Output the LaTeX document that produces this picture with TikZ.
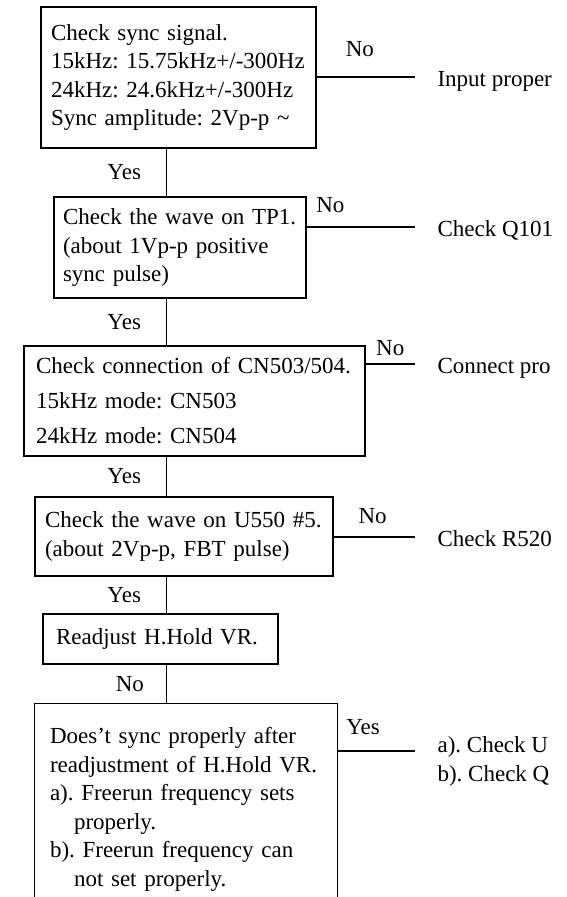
\documentclass[tikz,border=0pt]{standalone}
\usepackage{fontspec}
\setmainfont{Liberation Serif}
\usetikzlibrary{arrows,positioning,calc}
\frenchspacing

\begin{document}
\begin{tikzpicture}[x=1pt,y=-1pt,line width=1.1pt,
                    every node/.style={font=\fontsize{23}{28.5}\selectfont}]
  \tikzstyle{check}=[draw,align=left,inner ysep=0pt]
  \tikzstyle{result}=[anchor=base west,inner sep=0pt]
  \tikzstyle{yes}=[left=25pt,inner sep=0pt]
  \tikzstyle{no}=[anchor=south,inner sep=0pt]

  \useasboundingbox (0,0) rectangle (566,897);

  % the checks, top to bottom
  \node[check,text width=255pt,inner xsep=10pt,minimum height=141pt] (b1) at (178.5,77.5)
    {Check sync signal.\\15kHz: 15.75kHz+/-300Hz\\24kHz: 24.6kHz+/-300Hz\\Sync amplitude: 2Vp-p \textasciitilde};
  \node[check,text width=234pt,inner xsep=9pt,minimum height=101pt] (b2) at (180,247.5)
    {Check~the~wave~on~TP1.\\(about 1Vp-p positive\\sync pulse)};
  \node[check,text width=317pt,inner xsep=12pt,minimum height=110pt,
        font=\fontsize{23}{35}\selectfont] (b3) at (194.5,401)
    {Check connection of CN503/504.\\15kHz mode: CN503\\24kHz mode: CN504};
  \node[check,text width=278pt,inner xsep=10pt,minimum height=79pt] (b4) at (184,536.5)
    {Check the wave on U550 \#5.\\(about 2Vp-p, FBT pulse)};
  \node[check,text width=209pt,inner xsep=13pt,minimum height=50pt] (b5) at (160.5,639)
    {Readjust H.Hold VR.};
  % last check runs off the page at the bottom
  \node[check,draw=none,text width=272pt,inner xsep=15pt,minimum height=211pt] (b6) at (186,809.5)
    {Does't sync properly after\\readjustment of H.Hold VR.\\a). Freerun frequency sets\\
     \hspace*{24pt}properly.\\b). Freerun frequency can\\\hspace*{24pt}not set properly.};
  \draw (b6.south west) |- (b6.north east) -- (b6.south east);

  % ends of the side branches
  \coordinate (spine) at (166.5,0);
  \coordinate (e1) at (415,77);
  \coordinate (e2) at (415,227);
  \coordinate (e3) at (415,364);
  \coordinate (e4) at (415,537);
  \coordinate (e6) at (415,751);

  \node[result] (r1) at ([xshift=22pt,yshift=-9pt]e1) {Input proper};
  \node[result] (r2) at ([xshift=22pt,yshift=-9pt]e2) {Check Q101};
  \node[result] (r3) at ([xshift=22pt,yshift=-9pt]e3) {Connect pro};
  \node[result] (r4) at ([xshift=22pt,yshift=-9pt]e4) {Check R520};
  \node[result,align=left,anchor=north west] (r6) at ([xshift=22pt,yshift=15pt]e6)
    {a). Check U\\b). Check Q};

  \path (b1.south -| spine) edge node[yes] {Yes} (b2.north -| spine);
  \path (b2.south -| spine) edge node[yes] {Yes} (b3.north -| spine);
  \path (b3.south -| spine) edge node[yes] {Yes} (b4.north -| spine);
  \path (b4.south -| spine) edge node[yes] {Yes} (b5.north -| spine);
  \path (b5.south -| spine) edge node[yes,left=22pt] {No} (b6.north -| spine);

  \path (b1.east |- e1) edge node[no,pos=0.44,yshift=19.5pt] {No} (e1);
  \path (b2.east |- e2) edge node[no,pos=0.22,yshift=13.5pt] {No} (e2);
  \path (b3.east |- e3) edge node[no,pos=0.5,yshift=7.5pt] {No} (e3);
  \path (b4.east |- e4) edge node[no,pos=0.48,yshift=12.5pt] {No} (e4);
  \path (b6.east |- e6) edge node[no,pos=0.33,yshift=15.5pt] {Yes} (e6);
\end{tikzpicture}
\end{document}
